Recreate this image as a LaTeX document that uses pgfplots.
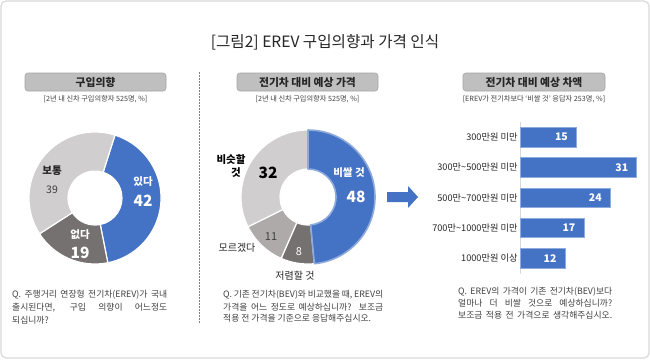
\documentclass[border=0pt]{standalone}
\usepackage{fontspec}
\setmainfont{Noto Sans CJK KR}
\usepackage{pgfplots}
\pgfplotsset{compat=1.18}
\definecolor{cblue}{HTML}{4472C4}
\definecolor{cblueL}{HTML}{8FAADC}
\definecolor{cdark}{HTML}{767171}
\definecolor{cmid}{HTML}{AEAAAA}
\definecolor{clight}{HTML}{D0CECE}
\definecolor{ctext}{HTML}{262626}
\definecolor{ctext2}{HTML}{404040}
\definecolor{chead}{HTML}{BFBFBF}
\definecolor{cheadB}{HTML}{A6A6A6}
\definecolor{cborder}{HTML}{D9D9D9}
\newcommand{\fs}[2]{\fontsize{#1bp}{#2bp}\selectfont}
\begin{document}
\begin{tikzpicture}[x=1bp,y=-1bp]
\useasboundingbox (0,0) rectangle (650,359);
\fill[white] (0,0) rectangle (650,359);
\draw[cborder, line width=1.2bp, rounded corners=5bp] (1,1) rectangle (649,358);
% title
\node[font=\fs{15.6}{18}, text=ctext] at (325,42) {[그림2] EREV 구입의향과 가격 인식};
% header boxes
\foreach \xa/\xb/\t in {25/166/구입의향, 237/378/전기차 대비 예상 가격, 463/605/전기차 대비 예상 차액}{
  \draw[fill=chead, draw=cheadB, line width=0.6bp, rounded corners=3bp] (\xa,73) rectangle (\xb,91);
  \node[font=\fs{10.8}{12}\bfseries, text=ctext] at ({(\xa+\xb)/2},82) {\t};
}
\node[font=\fs{7.2}{8}, text=ctext2] at (95.5,99.5) {[2년 내 신차 구입의향자 525명, \%]};
\node[font=\fs{7.2}{8}, text=ctext2] at (307.5,99.5) {[2년 내 신차 구입의향자 525명, \%]};
\node[font=\fs{7.2}{8}, text=ctext2] at (534,99.5) {[EREV가 전기차보다 ‘비쌀 것’ 응답자 253명, \%]};
% separator
\draw[gray, line width=0.6bp, dash pattern=on 1.5bp off 1.5bp] (199,72) -- (199,323);
% donut angles (values: 42, 19, 39 ; 48, 8, 11, 32)
\pgfmathsetmacro{\aA}{72.4}
\pgfmathsetmacro{\aB}{\aA-42*3.6}
\pgfmathsetmacro{\aC}{\aB-19*3.6}
\pgfmathsetmacro{\aD}{\aC-39*3.6}
\pgfmathsetmacro{\bA}{90}
\pgfmathsetmacro{\bB}{\bA-48/99*360}
\pgfmathsetmacro{\bC}{\bB-8/99*360}
\pgfmathsetmacro{\bD}{\bC-11/99*360}
\pgfmathsetmacro{\bE}{\bD-32/99*360}
\begin{axis}[at={(0bp,-359bp)}, anchor=south west, x=1bp, y=1bp, xmin=0, xmax=650, ymin=0, ymax=359,
  scale only axis, hide axis, clip=false]
\coordinate (D1) at (axis cs:95,161);
\coordinate (D2) at (axis cs:308,162);
% donut 1
\filldraw[fill=cblue, draw=white, line width=1.2bp] ([shift={(\aA:66bp)}]D1) arc[start angle=\aA, end angle=\aB, radius=66bp] -- ([shift={(\aB:27bp)}]D1) arc[start angle=\aB, end angle=\aA, radius=27bp] -- cycle;
\filldraw[fill=cdark, draw=white, line width=1.2bp] ([shift={(\aB:66bp)}]D1) arc[start angle=\aB, end angle=\aC, radius=66bp] -- ([shift={(\aC:27bp)}]D1) arc[start angle=\aC, end angle=\aB, radius=27bp] -- cycle;
\filldraw[fill=clight, draw=white, line width=1.2bp] ([shift={(\aC:66bp)}]D1) arc[start angle=\aC, end angle=\aD, radius=66bp] -- ([shift={(\aD:27bp)}]D1) arc[start angle=\aD, end angle=\aC, radius=27bp] -- cycle;
% donut 2
\filldraw[fill=cdark, draw=white, line width=1.2bp] ([shift={(\bB:67bp)}]D2) arc[start angle=\bB, end angle=\bC, radius=67bp] -- ([shift={(\bC:28bp)}]D2) arc[start angle=\bC, end angle=\bB, radius=28bp] -- cycle;
\filldraw[fill=cmid, draw=white, line width=1.2bp] ([shift={(\bC:67bp)}]D2) arc[start angle=\bC, end angle=\bD, radius=67bp] -- ([shift={(\bD:28bp)}]D2) arc[start angle=\bD, end angle=\bC, radius=28bp] -- cycle;
\filldraw[fill=clight, draw=white, line width=1.2bp] ([shift={(\bD:67bp)}]D2) arc[start angle=\bD, end angle=\bE, radius=67bp] -- ([shift={(\bE:28bp)}]D2) arc[start angle=\bE, end angle=\bD, radius=28bp] -- cycle;
\filldraw[fill=cblue, draw=cblueL, line width=1.6bp, line join=round] ([shift={(\bA:67bp)}]D2) arc[start angle=\bA, end angle=\bB, radius=67bp] -- ([shift={(\bB:28bp)}]D2) arc[start angle=\bB, end angle=\bA, radius=28bp] -- cycle;
\end{axis}
% donut 1 labels
\node[font=\fs{10.5}{12}\bfseries, text=white] at (143,182) {있다};
\node[font=\fs{15.5}{18}\bfseries, text=white] at (143,201) {42};
\node[font=\fs{10.5}{12}\bfseries, text=ctext] at (52,171) {보통};
\node[font=\fs{10.5}{12}, text=ctext2] at (52,190) {39};
\node[font=\fs{10.5}{12}\bfseries, text=white] at (80,235) {없다};
\node[font=\fs{15.5}{18}\bfseries, text=white] at (80,253) {19};
% donut 2 labels
\node[font=\fs{10.5}{12}\bfseries, text=white] at (349,173) {비쌀 것};
\node[font=\fs{15.5}{18}\bfseries, text=white] at (356,197) {48};
\node[font=\fs{10.5}{12}\bfseries, text=black] at (231,160) {비슷할};
\node[font=\fs{10.5}{12}\bfseries, text=black] at (236,173) {것};
\node[font=\fs{15.5}{18}\bfseries, text=black] at (268,173) {32};
\node[font=\fs{11}{13}, text=ctext2] at (271,237) {11};
\node[font=\fs{11}{13}, text=white] at (299,252) {8};
\node[font=\fs{10}{12}, text=ctext] at (237,248) {모르겠다};
\node[font=\fs{10}{12}, text=ctext] at (295,276) {저렴할 것};
% arrow
\fill[cblue] (387,192) -- (408,192) -- (408,186) -- (418,197) -- (408,208) -- (408,202) -- (387,202) -- cycle;
% bars
\begin{axis}[at={(520bp,-122bp)}, anchor=north west, scale only axis,
  x=3.77bp, y=30.3bp, xmin=0, xmax=32, ymin=-0.5, ymax=4.5, y dir=reverse,
  axis x line=none, axis y line*=left,
  y axis line style={draw=cborder, line width=0.6bp},
  ytick={0,1,2,3,4}, ytick style={draw=none},
  yticklabels={300만원 미만, 300만\textasciitilde500만원 미만, 500만\textasciitilde700만원 미만, 700만\textasciitilde1000만원 미만, 1000만원 이상},
  yticklabel style={font=\fs{9.2}{10}, text=ctext, xshift=1bp},
  /pgf/number format/assume math mode=true,
  clip=false]
\addplot[xbar, bar width=19.5bp, fill=cblue, draw=cblueL, line width=0.8bp,
  nodes near coords, point meta=x,
  every node near coord/.append style={anchor=east, xshift=-5bp, text=white, font=\fs{10.5}{12}\bfseries}]
  coordinates {(15,0) (31,1) (24,2) (17,3) (12,4)};
\end{axis}
% questions
\begin{scope}[every node/.style={anchor=west, inner sep=0pt, font=\fs{8.8}{10}, text=ctext2}]
\node at (12,295) {\makebox[155bp][s]{Q. 주행거리 연장형 전기차(EREV)가 국내}};
\node at (12,308) {\makebox[155bp][s]{출시된다면, 구입 의향이 어느정도}};
\node at (12,320) {되십니까?};
\node at (223,295) {\makebox[160bp][s]{Q. 기존 전기차(BEV)와 비교했을 때, EREV의}};
\node at (223,307) {\makebox[160bp][s]{가격을 어느 정도로 예상하십니까? 보조금}};
\node at (223,318) {적용 전 가격을 기준으로 응답해주십시오.};
\node at (458,292) {\makebox[154bp][s]{Q. EREV의 가격이 기존 전기차(BEV)보다}};
\node at (458,303) {\makebox[154bp][s]{얼마나 더 비쌀 것으로 예상하십니까?}};
\node at (458,315) {\makebox[154bp][s]{보조금 적용 전 가격으로 생각해주십시오.}};
\end{scope}
\end{tikzpicture}
\end{document}
